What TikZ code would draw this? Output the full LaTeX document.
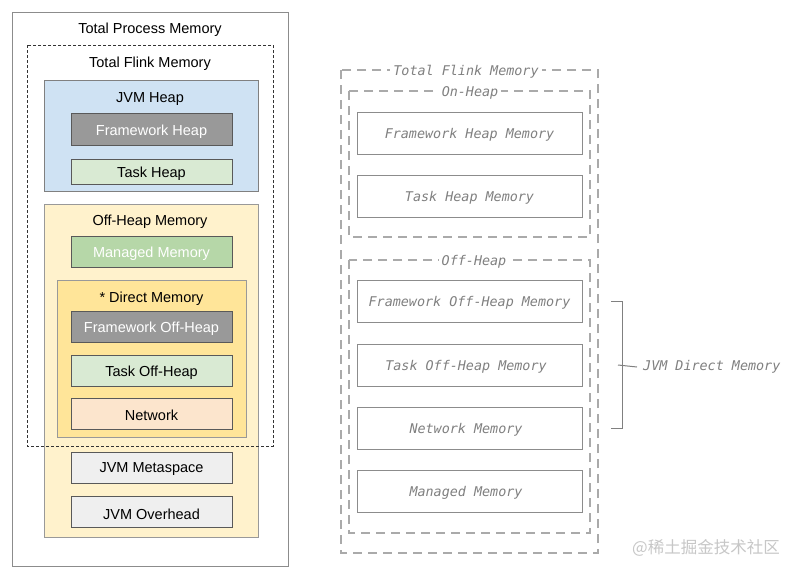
\documentclass[tikz,border=0pt]{standalone}
\usepackage{fontspec}
\setmainfont{Liberation Sans}
\newfontfamily\monofont{DejaVu Sans Mono}
\newfontfamily\cjk{Noto Sans CJK SC}
\definecolor{heapblue}{HTML}{CFE2F3}
\definecolor{offyellow}{HTML}{FFF2CC}
\definecolor{directyellow}{HTML}{FFE599}
\definecolor{fwgray}{HTML}{999999}
\definecolor{taskgreen}{HTML}{D9EAD3}
\definecolor{mgdgreen}{HTML}{B6D7A8}
\definecolor{netpeach}{HTML}{FCE5CD}
\definecolor{jvmgray}{HTML}{EFEFEF}
\definecolor{asciigray}{HTML}{808080}
\definecolor{dashgray}{HTML}{AAAAAA}
\tikzset{
  lt/.style={font=\fontsize{14.5}{16}\selectfont, text=black, inner sep=0pt, yshift=-2pt},
  lwt/.style={font=\fontsize{14.5}{16}\selectfont, text=white, inner sep=0pt, yshift=-2pt},
  ibox/.style={draw=black!65, line width=0.9pt},
  rtext/.style={font=\monofont\itshape\fontsize{13.4}{15}\selectfont, text=asciigray, inner sep=0pt, yshift=-2pt},
  rlabel/.style={font=\monofont\itshape\fontsize{13.4}{15}\selectfont, text=asciigray, fill=white, inner sep=3pt, yshift=-2pt},
  rbox/.style={draw=black!45, line width=1pt},
  rdash/.style={draw=dashgray, line width=1.3pt, dash pattern=on 9pt off 6pt},
}
\begin{document}
\begin{tikzpicture}[x=1pt,y=-1pt]
\useasboundingbox (0,0) rectangle (797,576);
\fill[white] (0,0) rectangle (797,576);

% ---------- left diagram ----------
\draw[draw=black!45, line width=1pt, fill=white] (12,12) rectangle (288,566);
\node[lt] (tpm) at (150,28) {Total Process Memory};

\draw[draw=black!50, line width=0.9pt, fill=heapblue] (44,80) rectangle (258,191);
\node[lt] (jvmheap) at (150,97) {JVM Heap};
\draw[ibox, fill=fwgray] (71,113) rectangle (232,145);
\node[lwt] (fwheap) at (151.5,130) {Framework Heap};
\draw[ibox, fill=taskgreen] (71,159) rectangle (232,184);
\node[lt] (taskheap) at (151.5,172) {Task Heap};

\draw[draw=black!40, line width=0.9pt, fill=offyellow] (44,204) rectangle (258,537);
\node[lt] (offheap) at (150,220) {Off-Heap Memory};
\draw[ibox, fill=mgdgreen] (71,236) rectangle (232,267);
\node[lwt] (managed) at (151.5,252) {Managed Memory};

\draw[draw=black!40, line width=0.9pt, fill=directyellow] (57,280) rectangle (246,437);
\node[lt] (direct) at (151.5,297) {* Direct Memory};
\draw[ibox, fill=fwgray] (71,311) rectangle (232,342);
\node[lwt] (fwoff) at (151.5,327) {Framework Off-Heap};
\draw[ibox, fill=taskgreen] (71,355) rectangle (232,386);
\node[lt] (taskoff) at (151.5,371) {Task Off-Heap};
\draw[ibox, fill=netpeach] (71,398) rectangle (232,429);
\node[lt] (network) at (151.5,413) {Network};

\draw[ibox, fill=jvmgray] (71,452) rectangle (232,483);
\node[lt] (meta) at (151.5,467) {JVM Metaspace};
\draw[ibox, fill=jvmgray] (71,496) rectangle (232,527);
\node[lt] (overhead) at (151.5,512) {JVM Overhead};

\draw[black!80, line width=0.8pt, dash pattern=on 3pt off 2pt] (27,45) rectangle (273,446);
\node[lt] (tfm) at (150,62) {Total Flink Memory};

% ---------- right diagram ----------
\draw[rdash] (341,70) rectangle (598,553);
\node[rlabel] (rtfm) at (466,70) {Total Flink Memory};

\draw[rdash] (349,91) rectangle (590,237);
\node[rlabel] (ronheap) at (470,91) {On-Heap};

\draw[rdash] (349,260) rectangle (590,533);
\node[rlabel] (roffheap) at (474,260) {Off-Heap};

\draw[rbox, fill=white] (357,112) rectangle (582,154);
\node[rtext] (rfwheap) at (469.5,133) {Framework Heap Memory};
\draw[rbox, fill=white] (357,175) rectangle (582,217);
\node[rtext] (rtaskheap) at (469.5,196) {Task Heap Memory};

\draw[rbox, fill=white] (357,280) rectangle (582,322);
\node[rtext] (rfwoff) at (469.5,301) {Framework Off-Heap Memory};
\draw[rbox, fill=white] (357,344) rectangle (582,386);
\node[rtext] (rtaskoff) at (466,365) {Task Off-Heap Memory};
\draw[rbox, fill=white] (357,407) rectangle (582,449);
\node[rtext] (rnet) at (466,428) {Network Memory};
\draw[rbox, fill=white] (357,470) rectangle (582,512);
\node[rtext] (rmanaged) at (466,491) {Managed Memory};

\coordinate (btop) at (611,301);
\coordinate (bbot) at (611,428);
\draw[black!50, line width=1pt] (btop) -- (622,301) -- (622,428) -- (bbot);
\node[rtext, anchor=west] (rjvmdirect) at (643,365) {JVM Direct Memory};
\draw[black!50, line width=1pt] (618,365) -- ([xshift=-6pt]rjvmdirect.west);

% watermark
\node[font=\cjk\fontsize{16.5}{18}\selectfont, text=black!22, inner sep=0pt, anchor=east] (wm) at (780,548) {@稀土掘金技术社区};
\end{tikzpicture}
\end{document}
